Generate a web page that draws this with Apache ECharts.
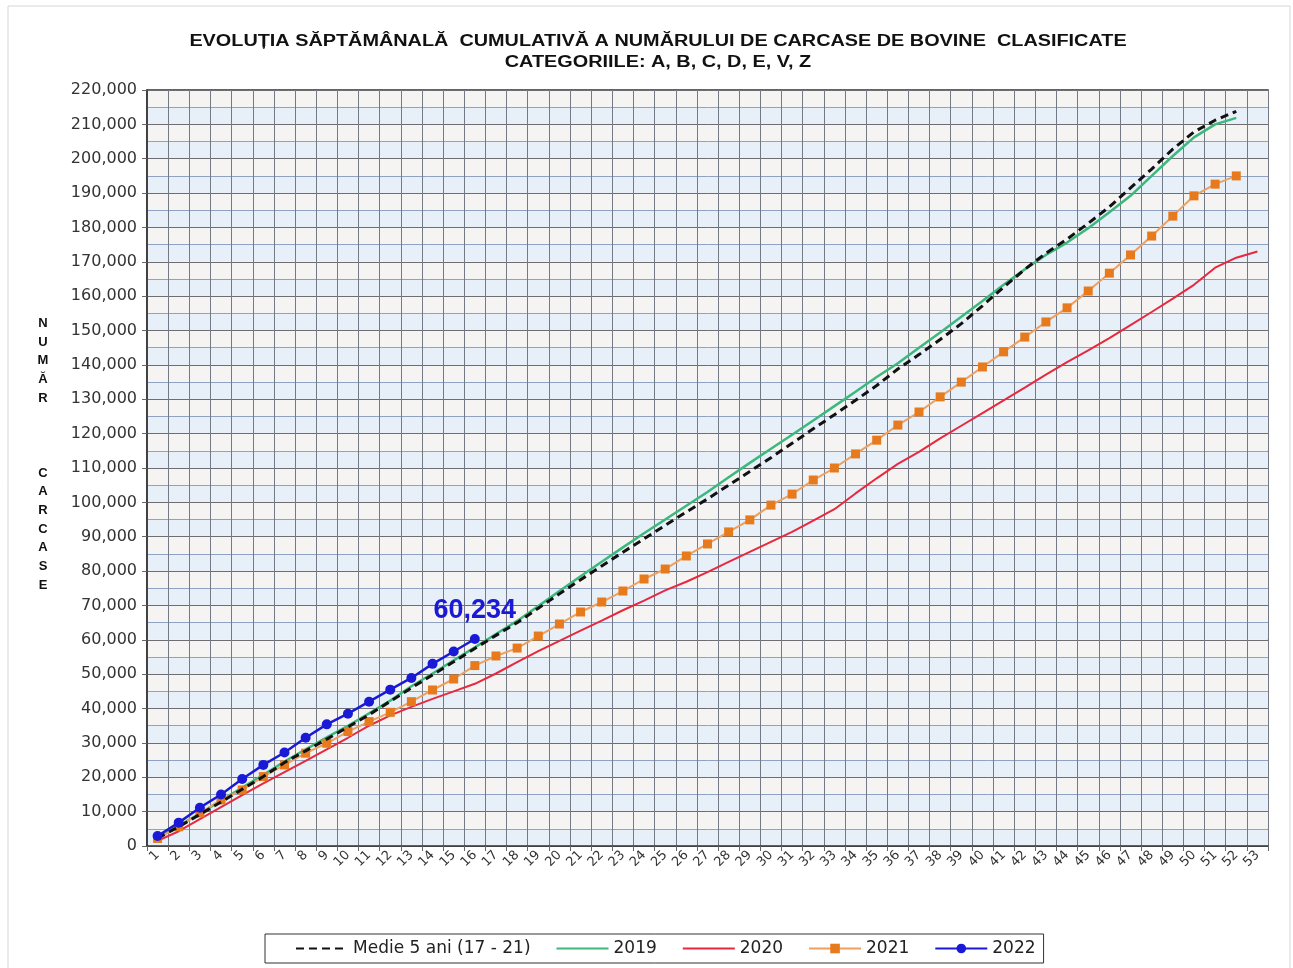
<!DOCTYPE html>
<html>
<head>
<meta charset="utf-8">
<title>Evolutia saptamanala cumulativa</title>
<script src="https://cdn.jsdelivr.net/npm/echarts@6/dist/echarts.min.js"></script>
<style>
  html, body { margin: 0; padding: 0; background: #fff; }
  #chart { width: 1293px; height: 968px; }
</style>
</head>
<body>
<div id="chart"></div>
<script>
// saptamanile 1 - 53
const weeks = ['1', '2', '3', '4', '5', '6', '7', '8', '9', '10', '11', '12', '13', '14', '15', '16', '17', '18',
  '19', '20', '21', '22', '23', '24', '25', '26', '27', '28', '29', '30', '31', '32', '33', '34', '35', '36',
  '37', '38', '39', '40', '41', '42', '43', '44', '45', '46', '47', '48', '49', '50', '51', '52', '53']

// media pe 5 ani (2017 - 2021)
const medie5 = [2300, 5600, 9200, 12800, 16500, 20200, 24300, 27700, 31100, 34600, 38200, 42100, 46000, 49800,
  53600, 57500, 61300, 65000, 69200, 73400, 77500, 81500, 85500, 89400, 93300, 97200, 101000, 105000, 109000,
  113000, 117200, 121400, 125500, 129700, 134000, 138800, 143000, 147400, 152000, 157200, 162600, 167800,
  172500, 176600, 181200, 186000, 191500, 197000, 202800, 207800, 211200, 213800]

const y2019 = [2500, 5900, 9500, 13200, 17000, 20700, 24600, 28100, 31600, 35000, 38600, 42300, 46500, 50200,
  54000, 57800, 61700, 65500, 69800, 74200, 78500, 82700, 86900, 91000, 95000, 99000, 103000, 107300, 111500,
  115600, 119700, 123800, 128000, 132200, 136500, 140500, 145000, 149400, 154000, 158600, 163300, 167800,
  172000, 175600, 179800, 184400, 189200, 195000, 200800, 206200, 210000, 211900]

const y2020 = [1500, 4300, 7800, 11300, 14800, 18200, 21500, 24800, 28100, 31500, 35000, 38000, 40500, 42800,
  45000, 47200, 50200, 53500, 56700, 59700, 62700, 65600, 68600, 71400, 74400, 76900, 79700, 82700, 85600,
  88500, 91400, 94700, 98000, 102600, 107000, 111200, 114700, 118600, 122300, 126000, 129700, 133400, 137200,
  140800, 144200, 147800, 151600, 155400, 159300, 163300, 168300, 171200, 173000]

const y2021 = [2200, 5600, 9600, 13400, 16300, 20200, 23600, 27000, 29900, 33300, 36200, 38900, 42000, 45400,
  48600, 52500, 55300, 57600, 61100, 64600, 68100, 71000, 74200, 77700, 80600, 84400, 87900, 91400, 94900,
  99200, 102400, 106500, 110000, 114100, 118100, 122500, 126300, 130700, 135000, 139400, 143800, 148100,
  152500, 156600, 161500, 166700, 172000, 177500, 183300, 189200, 192600, 195000]

const y2022 = [2900, 6800, 11150, 15000, 19500, 23600, 27200, 31500, 35400, 38500, 42000, 45500, 48900, 53000,
  56600, 60234]

const fmt = (v) => v.toLocaleString('en-US')
const labelFont = 'DejaVu Sans'

const chart = echarts.init(document.getElementById('chart'))

// ultimul punct din 2022 are eticheta
const data2022 = y2022.map((v, i) => i === y2022.length - 1 ? {
  value: v,
  label: {
    show: true,
    position: 'top',
    distance: 10,
    formatter: (p) => fmt(p.value),
    fontFamily: 'Liberation Sans, Arial',
    fontWeight: 'bold',
    fontSize: 27,
    color: '#1a1ad6'
  }
} : v)

// liniile fara marcaj nu au simbol nici in legenda
const noMark = { color: 'rgba(0,0,0,0)', borderWidth: 0 }

const option = {
  backgroundColor: '#fff',
  animation: false,
  graphic: [
    {
      type: 'rect',
      z: -10,
      shape: { x: 8, y: 6, width: 1282, height: 980 },
      style: { fill: 'none', stroke: '#d6d6d6', lineWidth: 1 }
    },
    {
      type: 'text',
      x: 658,
      y: 42,
      scaleX: 1.24,
      style: {
        text: 'EVOLUȚIA SĂPTĂMÂNALĂ  CUMULATIVĂ A NUMĂRULUI DE CARCASE DE BOVINE  CLASIFICATE',
        font: 'bold 16px "Liberation Sans", Arial',
        fill: '#111',
        align: 'center',
        verticalAlign: 'middle'
      }
    },
    {
      type: 'text',
      x: 658,
      y: 63,
      scaleX: 1.24,
      style: {
        text: 'CATEGORIILE: A, B, C, D, E, V, Z',
        font: 'bold 16px "Liberation Sans", Arial',
        fill: '#111',
        align: 'center',
        verticalAlign: 'middle'
      }
    },
    {
      // titlul axei Y, litere una sub alta
      type: 'text',
      x: 43,
      y: 314,
      style: {
        text: 'N\nU\nM\nĂ\nR\n\n\n\nC\nA\nR\nC\nA\nS\nE',
        font: 'bold 13px "Liberation Sans", Arial',
        lineHeight: 18.7,
        fill: '#111',
        align: 'center',
        verticalAlign: 'top'
      }
    }
  ],
  legend: {
    left: 265,
    top: 934,
    data: [
      { name: 'Medie 5 ani (17 - 21)', itemStyle: noMark },
      { name: '2019', itemStyle: noMark },
      { name: '2020', itemStyle: noMark },
      '2021',
      '2022'
    ],
    itemWidth: 52,
    itemHeight: 12,
    itemGap: 25,
    padding: [6, 8, 6, 30],
    borderColor: '#333',
    borderWidth: 1,
    backgroundColor: '#fff',
    textStyle: {
      fontFamily: labelFont,
      fontSize: 17,
      color: '#222'
    }
  },
  grid: {
    left: 147,
    right: 25,
    top: 90,
    bottom: 122,
    show: true,
    borderColor: '#333',
    borderWidth: 1.5
  },
  xAxis: {
    type: 'category',
    data: weeks,
    boundaryGap: true,
    z: 1,
    axisLine: { lineStyle: { color: '#333', width: 1.5 } },
    axisTick: { show: true, interval: 0, length: 5, lineStyle: { color: '#666' } },
    axisLabel: {
      interval: 0,
      rotate: 45,
      margin: 7,
      fontFamily: labelFont,
      fontSize: 13,
      color: '#333'
    },
    splitLine: { show: true, interval: 0, lineStyle: { color: '#737a85', width: 1 } }
  },
  yAxis: [
    {
      type: 'value',
      min: 0,
      max: 220000,
      interval: 10000,
      z: 1,
      axisLine: { show: true, lineStyle: { color: '#333', width: 1.5 } },
      axisTick: { show: true, length: 5, lineStyle: { color: '#666' } },
      axisLabel: {
        formatter: fmt,
        margin: 10,
        fontFamily: labelFont,
        fontSize: 16,
        color: '#333'
      },
      splitLine: { show: true, lineStyle: { color: '#6e6e72', width: 1 } }
    },
    {
      // axa ascunsa: linii si benzi la fiecare 5,000
      type: 'value',
      min: 0,
      max: 220000,
      interval: 5000,
      z: 0,
      position: 'left',
      axisLine: { show: false },
      axisTick: { show: false },
      axisLabel: { show: false },
      splitLine: { show: true, lineStyle: { color: '#8fa2c4', width: 1 } },
      splitArea: { show: true, areaStyle: { color: ['#e7eff9', '#f5f4f2'] } }
    }
  ],
  series: [
    {
      name: '2019',
      type: 'line',
      data: y2019,
      symbol: 'none',
      z: 3,
      lineStyle: { color: '#3cb87c', width: 2.5 },
      itemStyle: { color: '#3cb87c' }
    },
    {
      name: '2020',
      type: 'line',
      data: y2020,
      symbol: 'none',
      z: 3,
      lineStyle: { color: '#e8283e', width: 2 },
      itemStyle: { color: '#e8283e' }
    },
    {
      name: '2021',
      type: 'line',
      data: y2021,
      symbol: 'rect',
      symbolSize: 9,
      z: 4,
      lineStyle: { color: '#eda060', width: 2 },
      itemStyle: { color: '#e67a1c' }
    },
    {
      name: 'Medie 5 ani (17 - 21)',
      type: 'line',
      data: medie5,
      symbol: 'none',
      z: 5,
      lineStyle: { color: '#111', width: 3, type: [8, 5] },
      itemStyle: { color: '#111' }
    },
    {
      name: '2022',
      type: 'line',
      data: data2022,
      symbol: 'circle',
      symbolSize: 10,
      z: 6,
      lineStyle: { color: '#1a1ad6', width: 2.5 },
      itemStyle: { color: '#1a1ad6' }
    }
  ]
}

chart.setOption(option)
</script>
</body>
</html>
